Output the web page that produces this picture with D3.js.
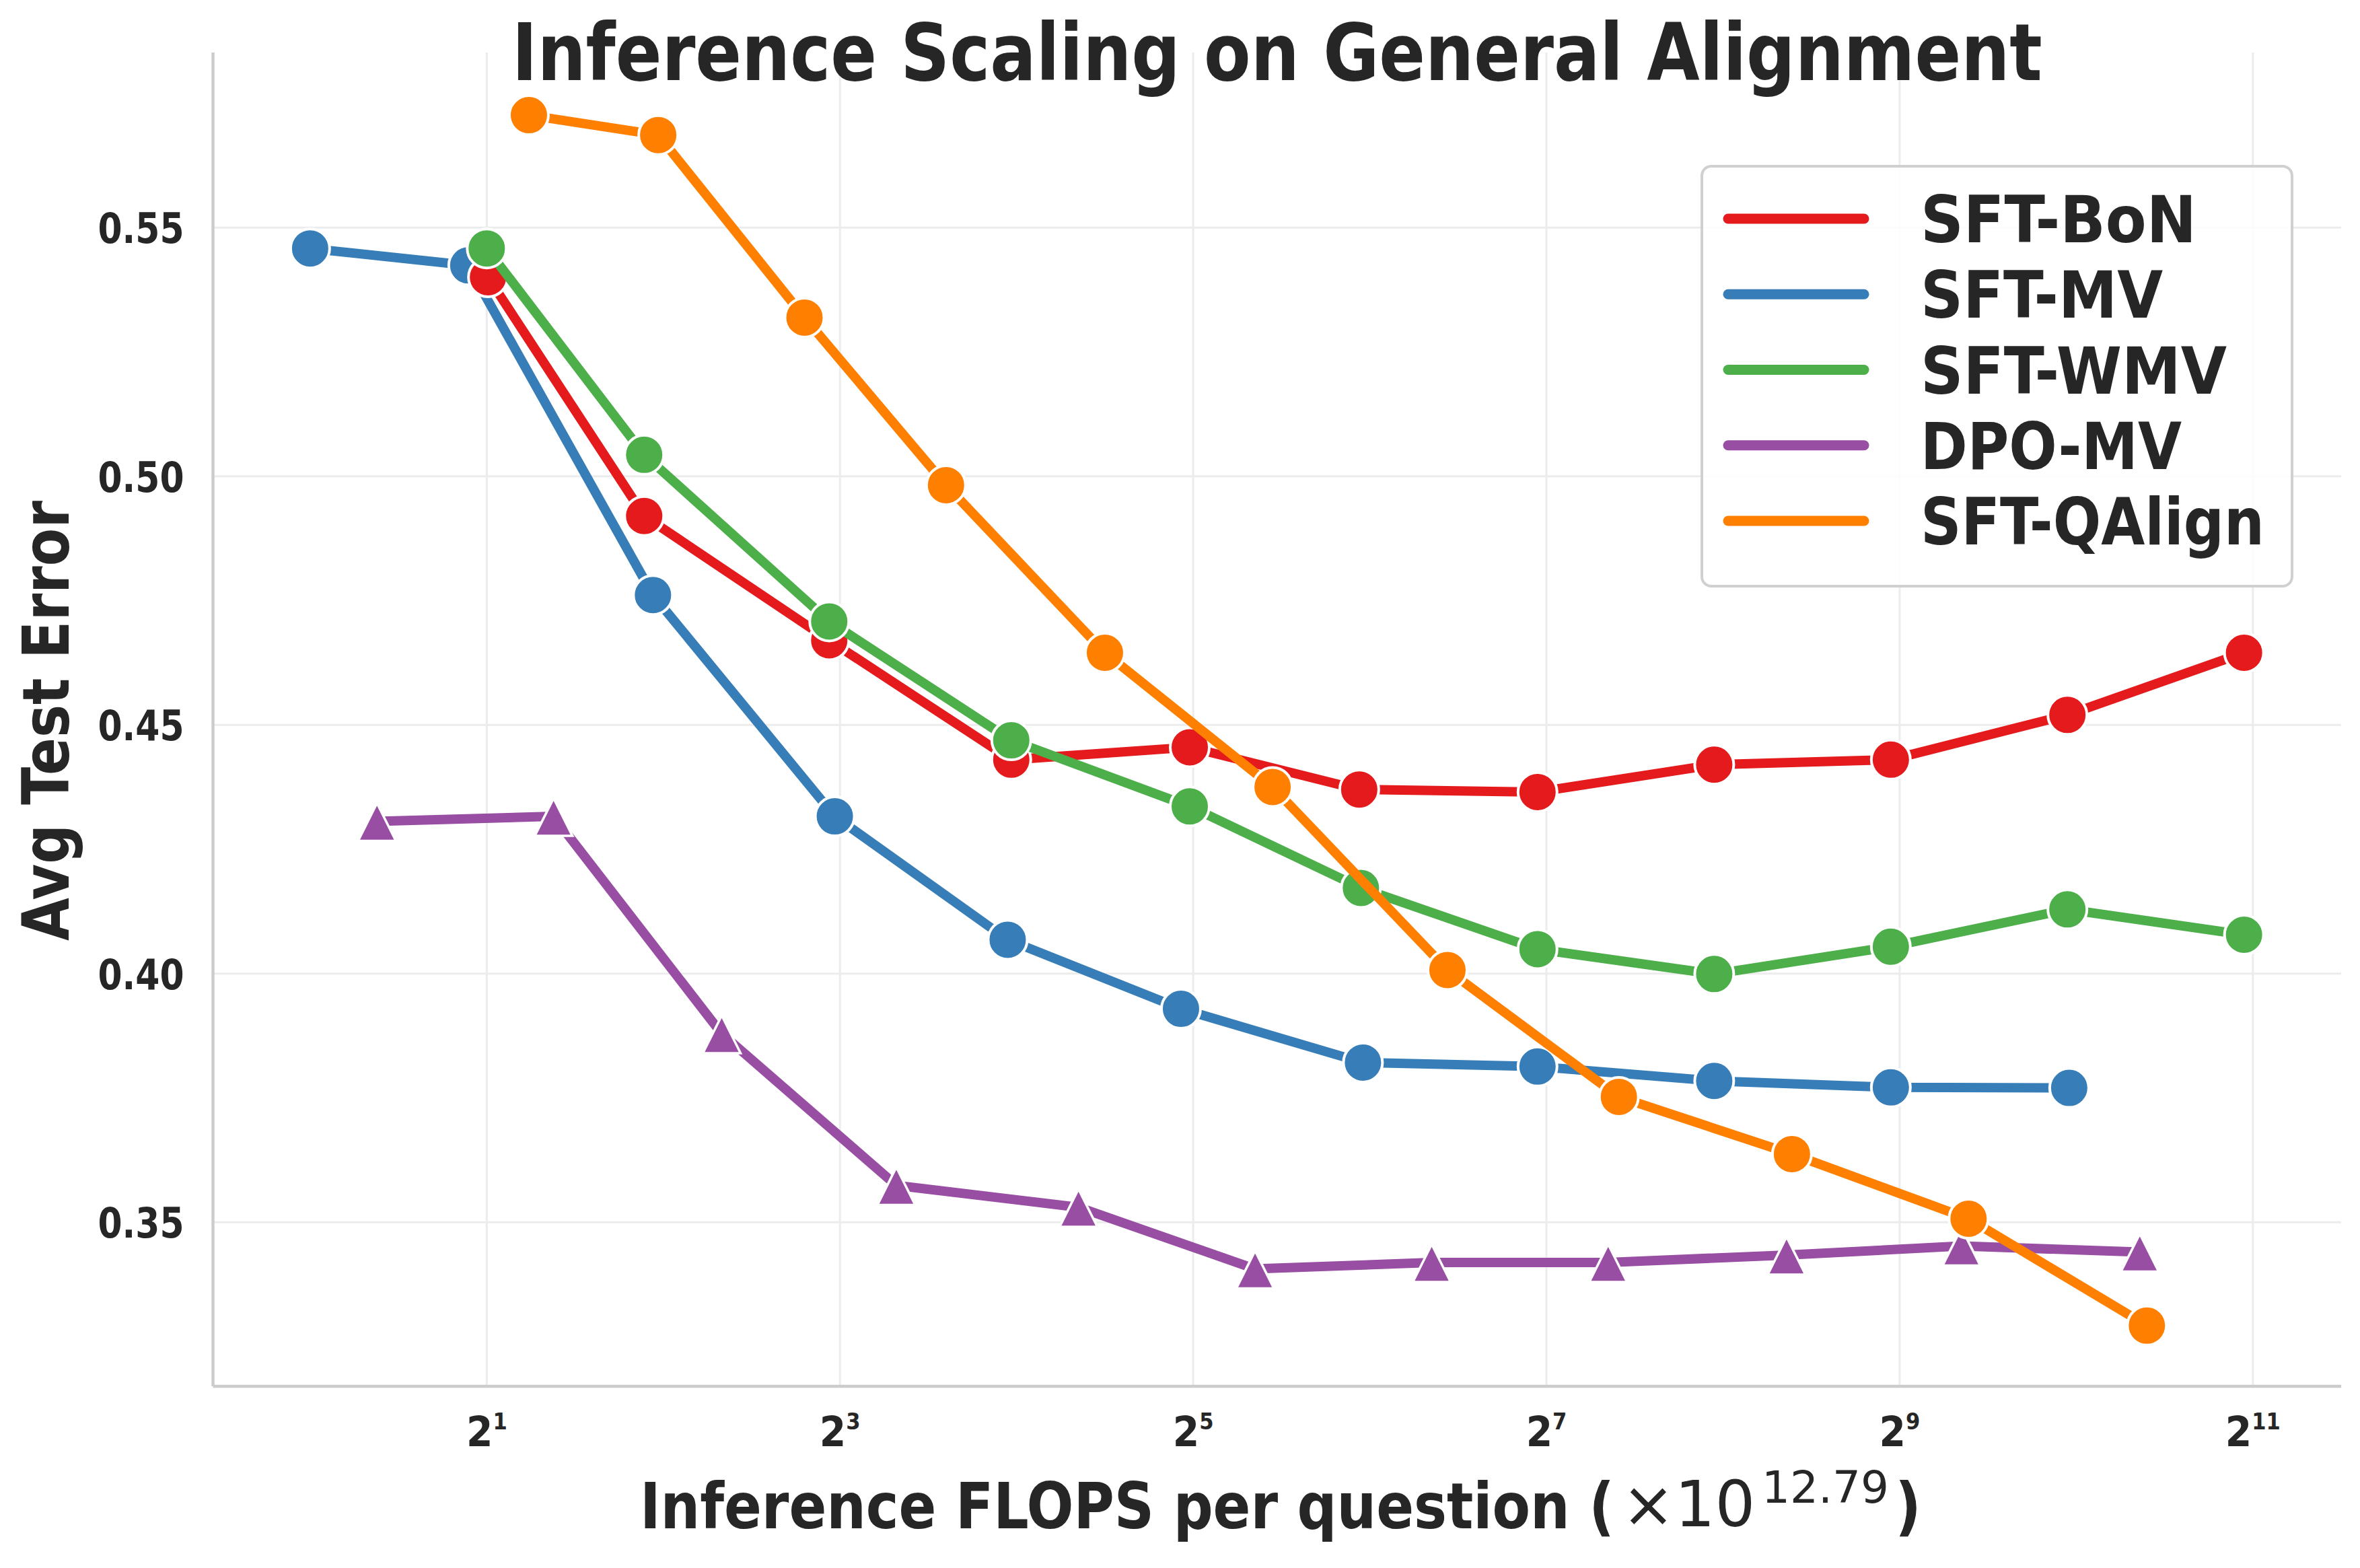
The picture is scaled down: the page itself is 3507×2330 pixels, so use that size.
<!DOCTYPE html>
<html>
<head>
<meta charset="utf-8">
<script src="https://cdn.jsdelivr.net/npm/d3@7"></script>
<style>
  body { margin: 0; background: #fff; }
</style>
</head>
<body>
<div id="chart"></div>
<script>
// series, in legend order
const names = ["SFT-BoN", "SFT-MV", "SFT-WMV", "DPO-MV", "SFT-QAlign"];
const colors = ["#e41a1c", "#377eb8", "#4daf4a", "#984ea3", "#ff7f00"];

// x = inference FLOPS per question (x 10^12.79)
const bonX = [2.01, 3.71, 7.67, 15.67, 31.57, 61.4, 123.6, 247.3, 494.6, 989, 1978];
const bonY = [0.540, 0.492, 0.467, 0.443, 0.4455, 0.437, 0.4365, 0.442, 0.443, 0.452, 0.4645];

const mvX = [1.0, 1.86, 3.84, 7.84, 15.45, 30.5, 62.3, 123.6, 247.3, 494.6, 996];
const mvY = [0.5458, 0.5424, 0.4761, 0.4316, 0.4068, 0.3929, 0.3821, 0.3813, 0.3784, 0.3771, 0.3770];

const wmvX = [2.0, 3.71, 7.67, 15.67, 31.57, 61.8, 123.6, 247.3, 494.6, 989, 1978];
const wmvY = [0.5458, 0.5043, 0.4708, 0.4469, 0.4336, 0.4172, 0.4049, 0.3999, 0.4054, 0.4129, 0.4078];

const dpoX = [1.30, 2.60, 5.03, 9.98, 20.4, 40.8, 81.6, 163.1, 328.5, 652.5, 1314];
const dpoY = [0.4306, 0.4316, 0.3879, 0.3574, 0.3530, 0.3406, 0.3419, 0.3419, 0.3434, 0.3452, 0.3440];

const qalignX = [2.36, 3.92, 6.96, 12.13, 22.63, 43.7, 86.8, 170.1, 335.5, 671, 1351];
const qalignY = [0.5726, 0.5686, 0.5319, 0.4982, 0.4645, 0.4375, 0.4007, 0.3752, 0.3637, 0.3507, 0.3292];

// ticks
const xTicks = [2, 8, 32, 128, 512, 2048];
const xTickExp = ["1", "3", "5", "7", "9", "11"];
const yTicks = [0.35, 0.40, 0.45, 0.50, 0.55];

const series = [
  {name: "SFT-MV", xs: mvX, ys: mvY, marker: "o"},
  {name: "SFT-BoN", xs: bonX, ys: bonY, marker: "o"},
  {name: "SFT-WMV", xs: wmvX, ys: wmvY, marker: "o"},
  {name: "DPO-MV", xs: dpoX, ys: dpoY, marker: "^"},
  {name: "SFT-QAlign", xs: qalignX, ys: qalignY, marker: "o"}
];
const color = d3.scaleOrdinal().domain(names).range(colors);

const width = 3507, height = 2330;
const plot = {left: 316.5, right: 3479, top: 78, bottom: 2060};
const comic = "'DejaVu Sans Condensed','Liberation Sans Narrow','DejaVu Sans',sans-serif";
const ink = "#262626";

let svg = d3.select("#chart")
  .append("svg")
  .attr("width", width)
  .attr("height", height)
  .style("background-color", "#fff");

let x = d3.scaleLog().base(2).domain([0.683, 2896]).range([plot.left, plot.right]);
let y = d3.scaleLinear().domain([0.317, 0.5852]).range([plot.bottom, plot.top]);

// grid
svg.append("g").attr("class", "grid")
  .selectAll("line")
  .data(yTicks)
  .enter()
  .append("line")
  .attr("x1", plot.left).attr("x2", plot.right)
  .attr("y1", d => y(d)).attr("y2", d => y(d))
  .attr("stroke", "#ececec").attr("stroke-width", 3);

svg.append("g").attr("class", "grid")
  .selectAll("line")
  .data(xTicks)
  .enter()
  .append("line")
  .attr("x1", d => x(d)).attr("x2", d => x(d))
  .attr("y1", plot.top).attr("y2", plot.bottom)
  .attr("stroke", "#ececec").attr("stroke-width", 3);

// spines
svg.append("line")
  .attr("x1", plot.left).attr("x2", plot.left).attr("y1", plot.top).attr("y2", plot.bottom)
  .attr("stroke", "#cccccc").attr("stroke-width", 4.5);
svg.append("line")
  .attr("x1", plot.left).attr("x2", plot.right).attr("y1", plot.bottom).attr("y2", plot.bottom)
  .attr("stroke", "#cccccc").attr("stroke-width", 4.5);

// y tick labels
let yAxis = svg.append("g")
  .attr("transform", `translate(${plot.left},0)`)
  .call(d3.axisLeft(y).tickValues(yTicks).tickFormat(d3.format(".2f")).tickSize(0).tickPadding(43));
yAxis.select(".domain").remove();
yAxis.selectAll("text")
  .attr("font-family", comic)
  .attr("font-weight", "bold")
  .attr("font-size", 63)
  .attr("fill", ink)
  .attr("dy", "0.36em")
  .attr("textLength", 128)
  .attr("lengthAdjust", "spacingAndGlyphs");

// x tick labels 2^k
let xt = svg.append("g")
  .selectAll("text")
  .data(xTicks)
  .enter()
  .append("text")
  .attr("x", d => x(d))
  .attr("y", 2149)
  .attr("text-anchor", "middle")
  .attr("font-family", comic)
  .attr("font-weight", "bold")
  .attr("fill", ink);
xt.append("tspan").attr("font-size", 63).text("2");
xt.append("tspan").attr("font-size", 34).attr("dy", -25).text((d, i) => xTickExp[i]);

// lines + markers
let line = d3.line()
  .x(d => x(d[0]))
  .y(d => y(d[1]));

series.forEach(function(s) {
  let pts = s.xs.map((v, i) => [v, s.ys[i]]);
  let g = svg.append("g").attr("class", "series");
  g.append("path")
    .datum(pts)
    .attr("d", line)
    .attr("fill", "none")
    .attr("stroke", color(s.name))
    .attr("stroke-width", 14)
    .attr("stroke-linejoin", "round");
  if (s.marker == "o") {
    g.selectAll("circle")
      .data(pts)
      .enter()
      .append("circle")
      .attr("cx", d => x(d[0]))
      .attr("cy", d => y(d[1]))
      .attr("r", 29)
      .attr("fill", color(s.name))
      .attr("stroke", "#fff")
      .attr("stroke-width", 4);
  } else {
    g.selectAll("path.tri")
      .data(pts)
      .enter()
      .append("path")
      .attr("class", "tri")
      .attr("d", "M0,-27L28,29L-28,29Z")
      .attr("transform", d => `translate(${x(d[0])},${y(d[1])})`)
      .attr("fill", color(s.name))
      .attr("stroke", "#fff")
      .attr("stroke-width", 3.5);
  }
});

// legend
let legend = svg.append("g").attr("class", "legend");
legend.append("rect")
  .attr("x", 2529).attr("y", 247)
  .attr("width", 877).attr("height", 624)
  .attr("rx", 14)
  .attr("fill", "#fff").attr("fill-opacity", 0.85)
  .attr("stroke", "#d0d0d0").attr("stroke-width", 4);
const legendRowY = d3.scaleLinear().domain([0, 4]).range([325, 774]);
const legendWidths = [410, 360, 455, 388, 511];
let item = legend.selectAll("g.item")
  .data(names)
  .enter()
  .append("g")
  .attr("class", "item")
  .attr("transform", (d, i) => `translate(0,${legendRowY(i)})`);
item.append("line")
  .attr("x1", 2568).attr("x2", 2770)
  .attr("stroke", d => color(d))
  .attr("stroke-width", 15)
  .attr("stroke-linecap", "round");
item.append("text")
  .attr("x", 2854)
  .attr("y", 35)
  .attr("font-family", comic)
  .attr("font-weight", "bold")
  .attr("font-size", 96)
  .attr("fill", ink)
  .attr("textLength", (d, i) => legendWidths[i])
  .attr("lengthAdjust", "spacingAndGlyphs")
  .text(d => d);

// title
svg.append("text")
  .attr("x", (plot.left + plot.right) / 2)
  .attr("y", 119)
  .attr("text-anchor", "middle")
  .attr("font-family", comic)
  .attr("font-weight", "bold")
  .attr("font-size", 118)
  .attr("fill", ink)
  .attr("textLength", 2274)
  .attr("lengthAdjust", "spacingAndGlyphs")
  .text("Inference Scaling on General Alignment");

// y label
svg.append("text")
  .attr("transform", "translate(102,1071) rotate(-90)")
  .attr("text-anchor", "middle")
  .attr("font-family", comic)
  .attr("font-weight", "bold")
  .attr("font-size", 96)
  .attr("fill", ink)
  .attr("textLength", 654)
  .attr("lengthAdjust", "spacingAndGlyphs")
  .text("Avg Test Error");

// x label, squeezed with a transform so its box is the drawn size
let xl1 = svg.append("text")
  .attr("font-family", comic)
  .attr("font-weight", "bold")
  .attr("font-size", 95)
  .attr("fill", ink)
  .text("Inference FLOPS per question (");
let sx = 1448 / xl1.node().getComputedTextLength();
xl1.attr("transform", `translate(951,2271) scale(${sx},1)`);

// mathtext part in DejaVu Sans
let xl2 = svg.append("text")
  .attr("x", 2410).attr("y", 2268)
  .attr("font-family", "'DejaVu Sans',sans-serif")
  .attr("font-size", 94)
  .attr("fill", ink);
xl2.append("tspan").text("\u00d710");
xl2.append("tspan")
  .attr("x", 2618).attr("dy", -35)
  .attr("font-size", 66)
  .text("12.79");
svg.append("text")
  .attr("x", 2816).attr("y", 2271)
  .attr("font-family", comic)
  .attr("font-weight", "bold")
  .attr("font-size", 95)
  .attr("fill", ink)
  .text(")");
</script>
</body>
</html>
